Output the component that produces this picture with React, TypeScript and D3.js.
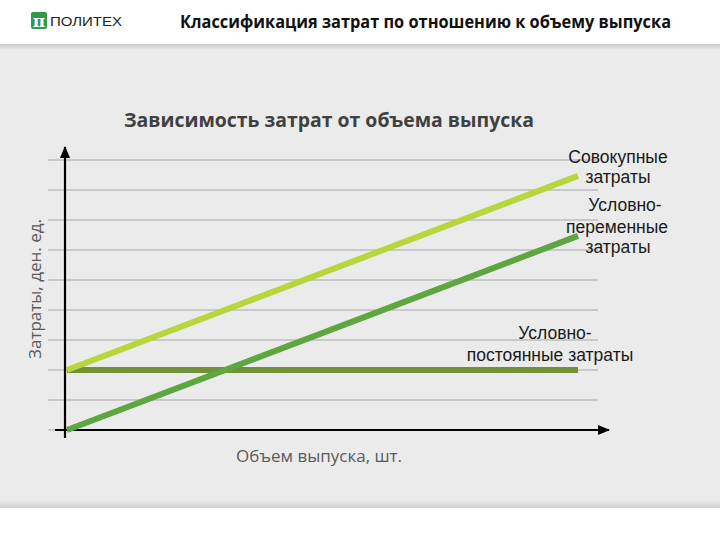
import React from "react";
import * as d3 from "d3";

const xValues = [0, 10];
const fixedCosts = [2, 2];
const variableCosts = [0, 6.47];
const totalCosts = [2, 8.47];
const gridValues = [0, 1, 2, 3, 4, 5, 6, 7, 8, 9];

const headerTitle = "Классификация затрат по отношению к объему выпуска";
const chartTitle = "Зависимость затрат от объема выпуска";
const yLabel = "Затраты, ден. ед.";
const xLabel = "Объем выпуска, шт.";

export default function App() {
  const W = 720, H = 540;
  const x = d3.scaleLinear().domain([0, 10]).range([67, 578]);
  const y = d3.scaleLinear().domain([0, 9]).range([430, 160]);
  const line = d3.line<[number, number]>().x(d => x(d[0])).y(d => y(d[1]));
  const mk = (vals: number[]) => line(xValues.map((v, i) => [v, vals[i]] as [number, number])) || "";

  const series = [
    { vals: fixedCosts, color: "#6e9234" },
    { vals: variableCosts, color: "#5da640" },
    { vals: totalCosts, color: "#b8d63c" },
  ];

  return (
    <svg width={W} height={H} style={{ position: "absolute", left: 0, top: 0 }} xmlns="http://www.w3.org/2000/svg">
      <defs>
        <linearGradient id="topShadow" x1="0" y1="0" x2="0" y2="1">
          <stop offset="0" stopColor="#c8c8c8" />
          <stop offset="1" stopColor="#ebebeb" />
        </linearGradient>
        <linearGradient id="botShadow" x1="0" y1="0" x2="0" y2="1">
          <stop offset="0" stopColor="#ebebeb" />
          <stop offset="1" stopColor="#cfcfcf" />
        </linearGradient>
        <marker id="arrowBig" viewBox="0 0 12 10" refX="11" refY="5" markerWidth="13" markerHeight="10" orient="auto" markerUnits="userSpaceOnUse">
          <path d="M0,0 L12,5 L0,10 z" fill="#000" />
        </marker>
      </defs>
      <rect x={0} y={0} width={W} height={H} fill="#ffffff" />
      <rect x={0} y={44} width={W} height={464} fill="#ebebeb" />
      <rect x={0} y={44} width={W} height={6} fill="url(#topShadow)" />
      <rect x={0} y={500} width={W} height={8} fill="url(#botShadow)" />

      {/* logo */}
      <rect x={31} y={12} width={16} height={17} rx={2} fill="#2e9a4a" />
      <text x={39} y={27} textAnchor="middle" fontFamily="DejaVu Serif" fontWeight="bold" fontSize={17} fill="#ffffff">π</text>
      <text x={50} y={26} fontFamily="Liberation Sans" fontSize={13} fill="#222" textLength={72} lengthAdjust="spacingAndGlyphs">ПОЛИТЕХ</text>

      <text x={180} y={28} fontFamily="Open Sans" fontWeight="bold" fontSize={17} fill="#111" textLength={491} lengthAdjust="spacingAndGlyphs">{headerTitle}</text>

      {/* chart title */}
      <text x={329} y={127} textAnchor="middle" fontFamily="Open Sans" fontWeight="bold" fontSize={19} fill="#404040" textLength={410} lengthAdjust="spacingAndGlyphs">{chartTitle}</text>

      {/* gridlines */}
      {gridValues.map(v => (
        <line key={v} x1={48} x2={598} y1={y(v)} y2={y(v)} stroke="#a8a8a8" strokeWidth={1.2} />
      ))}

      {/* axes */}
      <line x1={65} x2={65} y1={438} y2={147} stroke="#000" strokeWidth={2.2} markerEnd="url(#arrowBig)" />
      <line x1={55} x2={609} y1={y(0)} y2={y(0)} stroke="#000" strokeWidth={2.2} markerEnd="url(#arrowBig)" />

      {/* series */}
      {series.map((s, i) => (
        <path key={i} d={mk(s.vals)} stroke={s.color} strokeWidth={6} fill="none" />
      ))}

      {/* axis labels */}
      <text transform={`translate(41,${289}) rotate(-90)`} textAnchor="middle" fontFamily="Open Sans" fontSize={17} fill="#5a5a5a">{yLabel}</text>
      <text x={319} y={462} textAnchor="middle" fontFamily="Open Sans" fontSize={17} fill="#5a5a5a">{xLabel}</text>

      {/* annotations */}
      <g fontFamily="Liberation Sans" fontSize={17.5} fill="#1a1a1a" textAnchor="middle">
        <text x={618} y={163}>Совокупные</text>
        <text x={618} y={183}>затраты</text>
        <text x={625} y={211}>Условно-</text>
        <text x={617} y={233}>переменные</text>
        <text x={618} y={253}>затраты</text>
        <text x={555} y={339}>Условно-</text>
        <text x={550} y={361}>постоянные затраты</text>
      </g>
    </svg>
  );
}
